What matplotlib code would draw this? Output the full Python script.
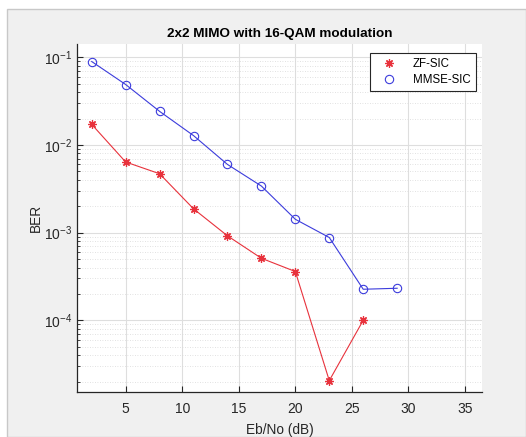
import matplotlib
matplotlib.use("Agg")
import matplotlib.pyplot as plt
from matplotlib.lines import Line2D
from matplotlib.patches import Rectangle
from matplotlib.ticker import LogLocator, NullFormatter

plt.rcParams['font.family'] = ['Liberation Sans', 'DejaVu Sans']
plt.rcParams['mathtext.fontset'] = 'custom'
plt.rcParams['mathtext.rm'] = 'Liberation Sans'
plt.rcParams['mathtext.it'] = 'Liberation Sans:italic'
plt.rcParams['mathtext.bf'] = 'Liberation Sans:bold'
plt.rcParams['mathtext.default'] = 'regular'

ebno_zf = [2, 5, 8, 11, 14, 17, 20, 23, 26]
ber_zf = [0.0172, 0.0064, 0.0047, 0.00187, 0.00092, 0.00051, 0.00036, 2.05e-5, 1.0e-4]
ebno_mmse = [2, 5, 8, 11, 14, 17, 20, 23, 26, 29]
ber_mmse = [0.0896, 0.049, 0.0242, 0.0128, 0.0060, 0.0034, 0.00142, 0.00088, 0.000226, 0.000232]
xticks = [5, 10, 15, 20, 25, 30, 35]
series_names = ['ZF-SIC', 'MMSE-SIC']

RED = '#e8323c'
BLUE = '#3c3cdc'
AST = (8, 2, 0)

W, H = 526, 437
fig = plt.figure(figsize=(W / 100, H / 100), dpi=100)
fig.patch.set_facecolor('white')
fig.add_artist(Rectangle((7 / W, 0), 1 - 7 / W, (H - 9) / H, transform=fig.transFigure,
                         facecolor='#f0f0f0', edgecolor='#c8c8c8', linewidth=1.0, zorder=-10))

ax = fig.add_axes([77 / W, (H - 392) / H, (482 - 77) / W, (392 - 44) / H])
ax.set_facecolor('white')

ax.plot(ebno_zf, ber_zf, color=RED, lw=0.8, marker=AST, ms=6, mew=0.9, zorder=3)
ax.plot(ebno_mmse, ber_mmse, color=BLUE, lw=0.8, marker='o', ms=6, mfc='none', mew=0.8, zorder=3)

ax.set_yscale('log')
ax.set_xlim(0.7, 36.5)
ax.set_ylim(1.52e-5, 0.142)
ax.set_xticks(xticks)
ax.set_yticks([1e-4, 1e-3, 1e-2, 1e-1])
ax.yaxis.set_minor_locator(LogLocator(base=10, subs=range(2, 10)))
ax.yaxis.set_minor_formatter(NullFormatter())

ax.grid(True, which='major', color='#dedede', lw=0.8)
ax.grid(True, which='minor', axis='y', color='#d8d8d8', lw=0.6, ls=(0, (1, 2)))
ax.set_axisbelow(True)

for s in ['top', 'right']:
    ax.spines[s].set_visible(False)
for s in ['left', 'bottom']:
    ax.spines[s].set_color('#262626')
    ax.spines[s].set_linewidth(0.9)

ax.tick_params(which='both', direction='in', colors='#262626', labelsize=10)
ax.tick_params(which='major', length=4)
ax.tick_params(which='minor', length=2)
ax.tick_params(axis='x', pad=7)

ax.set_title('2x2 MIMO with 16-QAM modulation', fontsize=9.7, fontweight='bold', pad=5)
ax.set_xlabel('Eb/No (dB)', fontsize=9.8, color='#262626', labelpad=5)
ax.set_ylabel('BER', fontsize=9.8, color='#262626', labelpad=1)

handles = [Line2D([], [], ls='none', marker=AST, color=RED, ms=6, mew=0.9),
           Line2D([], [], ls='none', marker='o', mfc='none', color=BLUE, ms=6, mew=0.8)]
leg = ax.legend(handles, series_names, loc='upper right', bbox_to_anchor=(0.999, 0.9905),
                fontsize=8.3, frameon=True, fancybox=False, framealpha=1,
                handlelength=2.4, borderpad=0.45, labelspacing=0.3, handletextpad=0.9)
leg.get_frame().set_edgecolor('#262626')
leg.get_frame().set_linewidth(0.8)

fig.savefig('out.png', dpi=100, facecolor=fig.get_facecolor())
